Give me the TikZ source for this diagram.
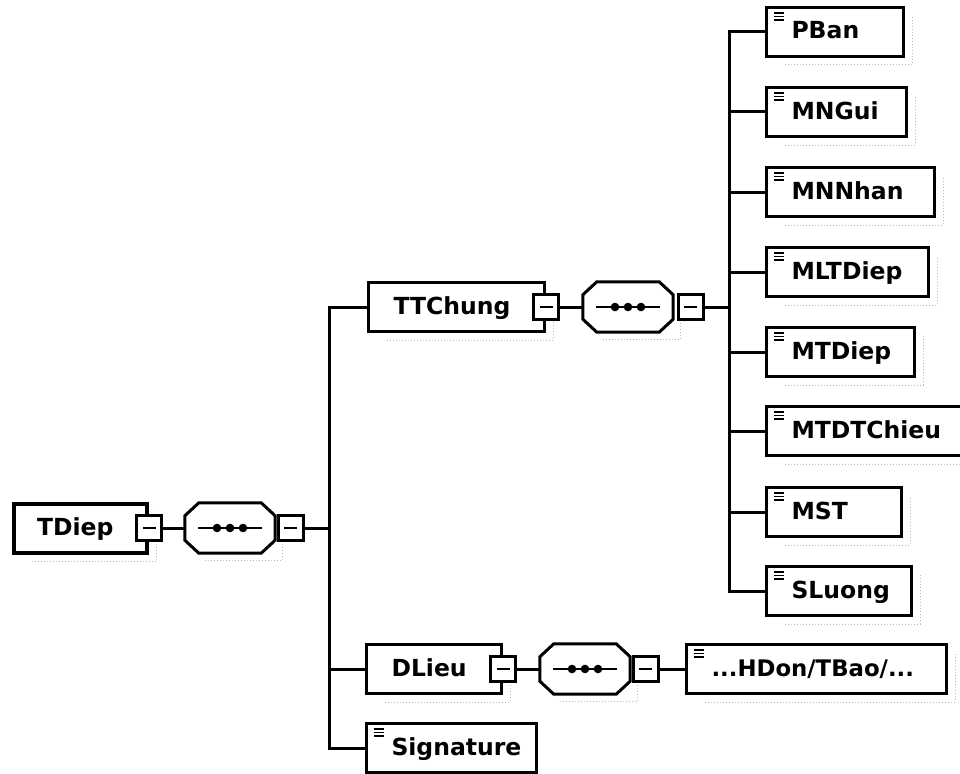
\documentclass[tikz,border=0pt]{standalone}
\usepackage{fontspec}
\setmainfont{DejaVu Sans}
\usetikzlibrary{calc}

% sequence compositor: chamfered box with a line and three dots
\newcommand\seqdraw[1]{%
  \draw[line width=3pt, line join=miter]
    ([xshift=14pt]#1.north west) -- ([xshift=-14pt]#1.north east)
    -- ([yshift=-13pt]#1.north east) -- ([yshift=13pt]#1.south east)
    -- ([xshift=-14pt]#1.south east) -- ([xshift=14pt]#1.south west)
    -- ([yshift=13pt]#1.south west) -- ([yshift=-13pt]#1.north west) -- cycle;
  \draw[line width=2.6pt] ([xshift=-32pt]#1.center) -- ([xshift=32pt]#1.center);
  \fill ([xshift=-13pt]#1.center) circle (4.3pt)
        (#1.center) circle (4.3pt)
        ([xshift=13pt]#1.center) circle (4.3pt);
}
% faint dotted drop line under and right of a box
\newcommand\dropline[1]{%
  \draw[gray!55, dotted, line width=1pt]
    ([xshift=20pt,yshift=-7pt]#1.south west) -- ([xshift=7pt,yshift=-7pt]#1.south east)
    -- ([xshift=7pt,yshift=-10pt]#1.north east);
}

\begin{document}
\begin{tikzpicture}[x=1pt,y=-1pt,
  every node/.style={font=\fontsize{23.5}{27}\selectfont\bfseries},
  elem/.style={draw, fill=white, line width=3pt, inner sep=0pt,
    minimum height=49pt, text width=#1, align=left, anchor=west,
    text height=16pt, text depth=2pt},
  leaf/.style={elem=#1, path picture={
    \foreach \dy in {5.5,9,12.5}
      {\draw[line width=1.7pt]
        ([xshift=7pt,yshift=-\dy pt]path picture bounding box.north west) -- ++(10pt,0);}}},
  minusbox/.style={draw, fill=white, line width=2.6pt, minimum size=25pt, inner sep=0pt,
    path picture={\draw[line width=2pt]
      ([xshift=6pt]path picture bounding box.west) -- ([xshift=-6pt]path picture bounding box.east);}},
  seqnode/.style={minimum width=90pt, minimum height=50pt, inner sep=0pt},
  conn/.style={line width=3pt}
]
\useasboundingbox[fill=white] (0,0) rectangle (960,773);

% root element
\node[elem=133pt, line width=4pt] (tdiep) at (12,528) {\hspace*{23pt}TDiep};
\dropline{tdiep}
\node[minusbox] (m0) at (tdiep.east) {};
\node[seqnode] (seq0) at (230,528) {};
\seqdraw{seq0}
\dropline{seq0}
\node[minusbox, anchor=west] (sm0) at (277,528) {};

% second level
\node[elem=176pt] (ttchung) at (367,307) {\hspace*{25pt}TTChung};
\dropline{ttchung}
\node[minusbox] (m1) at (ttchung.east) {};
\node[seqnode] (seq1) at (628,307) {};
\seqdraw{seq1}
\dropline{seq1}
\node[minusbox, anchor=west] (sm1) at (677,307) {};

\node[elem=135pt] (dlieu) at (365,669) {\hspace*{25pt}DLieu};
\dropline{dlieu}
\node[minusbox] (m2) at (dlieu.east) {};
\node[seqnode] (seq2) at (585,669) {};
\seqdraw{seq2}
\dropline{seq2}
\node[minusbox, anchor=west] (sm2) at (632,669) {};
\node[leaf=260pt, font=\fontsize{22.8}{26}\selectfont\bfseries] (hdon) at (685,669) {\hspace*{25pt}...HDon/TBao/...};
\dropline{hdon}

\node[leaf=170pt] (signature) at (365,748) {\hspace*{25pt}Signature};

% leaves of TTChung
\node[leaf=137pt] (pban)      at (765,32)  {\hspace*{25pt}PBan};
\node[leaf=140pt] (mngui)     at (765,112) {\hspace*{25pt}MNGui};
\node[leaf=168pt] (mnnhan)    at (765,192) {\hspace*{25pt}MNNhan};
\node[leaf=162pt] (mltdiep)   at (765,272) {\hspace*{25pt}MLTDiep};
\node[leaf=148pt] (mtdiep)    at (765,352) {\hspace*{25pt}MTDiep};
\node[leaf=200pt] (mtdtchieu) at (765,431) {\hspace*{25pt}MTDTChieu};
\node[leaf=135pt] (mst)       at (765,512) {\hspace*{25pt}MST};
\node[leaf=145pt] (sluong)    at (765,591) {\hspace*{25pt}SLuong};
\foreach \n in {pban,mngui,mnnhan,mltdiep,mtdiep,mtdtchieu,mst,sluong}
  {\dropline{\n}}

% connectors
\draw[conn] (m0.east) -- (seq0.west);
\foreach \n in {ttchung,dlieu,signature}
  {\draw[conn] (sm0.east) -- ++(25pt,0) |- (\n.west);}
\draw[conn] (m1.east) -- (seq1.west);
\foreach \n in {pban,mngui,mnnhan,mltdiep,mtdiep,mtdtchieu,mst,sluong}
  {\draw[conn] (sm1.east) -- ++(25pt,0) |- (\n.west);}
\draw[conn] (m2.east) -- (seq2.west);
\draw[conn] (sm2.east) -- (hdon.west);
\end{tikzpicture}
\end{document}
